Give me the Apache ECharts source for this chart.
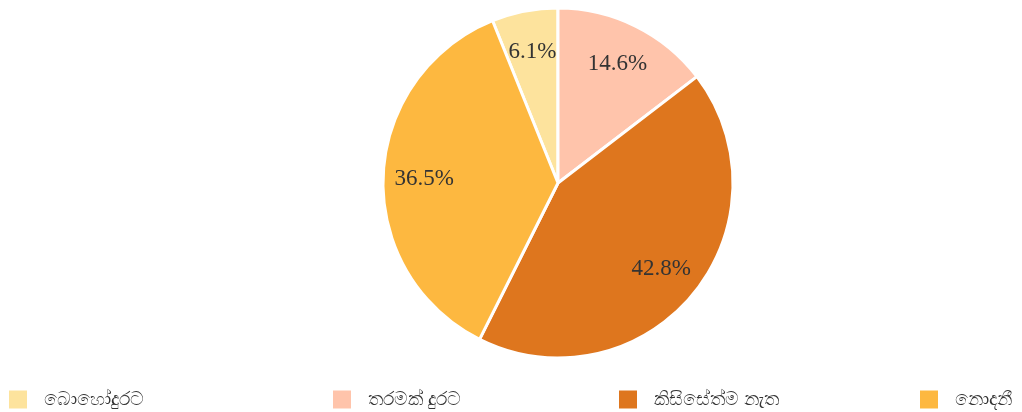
<!DOCTYPE html>
<html><head><meta charset="utf-8">
<script src="https://cdn.jsdelivr.net/npm/echarts@6/dist/echarts.min.js"></script>
<style>html,body{margin:0;padding:0;background:#fff}#c{width:1022px;height:412px}</style>
</head><body><div id="c"></div>
<script>
const categories = ['බොහෝදුරට', 'තරමක් දුරට', 'කිසිසේත්ම නැත', 'නොදනී'];
const values = [6.1, 14.6, 42.8, 36.5];
const colors = ['#FDE39D', '#FFC4AB', '#DE761E', '#FDB840'];
const legendLeft = [9, 333, 619, 920];

const chart = echarts.init(document.getElementById('c'));
const data = categories.map((n, i) => ({ name: n, value: values[i], itemStyle: { color: colors[i] } }));
const total = values.reduce((a, b) => a + b, 0);
const startAngle = 90 + values[0] / total * 360;

chart.setOption({
  animation: false,
  legend: categories.map((n, i) => ({
    data: [n], left: legendLeft[i], top: 390, itemWidth: 18, itemHeight: 18, itemGap: 0, padding: 0,
    icon: 'rect', itemStyle: { borderWidth: 0, borderColor: 'transparent' },
    textStyle: { fontSize: 19, color: '#333', fontFamily: 'Noto Sans, sans-serif', padding: [0, 0, 0, 12] }
  })),
  series: [
    {
      type: 'pie', center: [558, 183], radius: [0, 175], startAngle: startAngle,
      clockwise: true, data: data,
      itemStyle: { borderColor: '#fff', borderWidth: 3 },
      label: { show: false }, labelLine: { show: false }
    },
    {
      type: 'pie', center: [558, 184], radius: [87, 175], startAngle: startAngle,
      clockwise: true, silent: true,
      data: categories.map((n, i) => ({ name: n, value: values[i] })),
      itemStyle: { color: 'rgba(0,0,0,0)', borderWidth: 0 },
      label: { show: true, position: 'inside', formatter: p => p.value.toFixed(1) + '%',
        fontSize: 23, color: '#333', fontFamily: 'Liberation Serif, serif' },
      labelLine: { show: false }, emphasis: { disabled: true }
    }
  ]
});
</script></body></html>
